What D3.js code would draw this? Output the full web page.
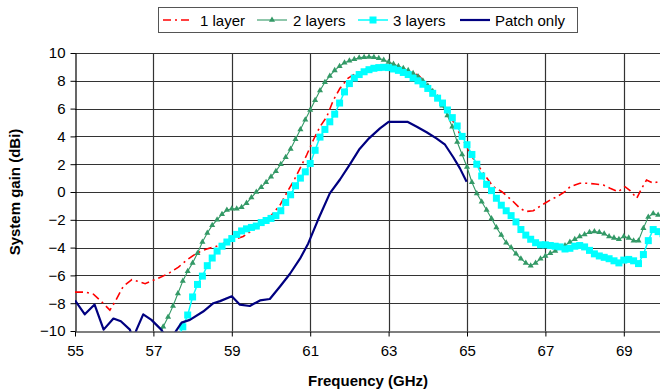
<!DOCTYPE html>
<html><head><meta charset="utf-8">
<script src="https://cdn.jsdelivr.net/npm/d3@7"></script>
<style>
html,body{margin:0;padding:0;background:#fff;}
svg{display:block;font-family:"Liberation Sans",Arial,sans-serif;}
</style></head>
<body><svg id="chart" width="660" height="392"></svg>
<script>
// ---- data ----
const xTicks = [55,57,59,61,63,65,67,69];
const yTicks = [-10,-8,-6,-4,-2,0,2,4,6,8,10];
const seriesNames = ["1 layer","2 layers","3 layers","Patch only"];

const oneLayerF = [55.0,55.26,55.47,55.68,55.89,56.02,56.23,56.45,56.57,56.79,57.04,57.21,57.42,57.64,57.85,58.1,58.36,58.61,58.87,59.04,59.29,59.55,59.8,59.97,60.23,60.44,60.57,60.74,60.91,61.08,61.25,61.42,61.59,61.76,61.97,62.2,62.5,62.8,63.1,63.4,63.76,63.97,64.31,64.65,64.9,65.16,65.42,65.67,65.89,66.14,66.35,66.5,66.69,66.91,67.12,67.29,67.5,67.63,67.88,68.05,68.27,68.48,68.65,68.86,69.03,69.16,69.33,69.46,69.58,69.75,69.88,70.0];
const oneLayerG = [-7.2,-7.2,-7.35,-7.9,-8.5,-7.9,-6.8,-6.3,-6.4,-6.6,-6.3,-6.1,-5.8,-5.4,-4.9,-4.4,-4.1,-3.9,-3.6,-3.45,-3.2,-2.7,-2.25,-1.8,-0.94,0.14,0.74,1.7,2.66,3.74,4.7,5.4,6.6,7.46,8.2,8.6,8.9,9.0,8.95,8.75,8.4,7.8,6.5,5.06,3.74,2.4,1.35,0.38,0.02,-0.58,-1.17,-1.4,-1.35,-0.94,-0.58,-0.34,0.02,0.38,0.63,0.63,0.58,0.5,0.27,0.02,0.38,0.1,-0.45,0.27,0.86,0.63,0.74,0.65];

const twoLayerF = [57.125,57.25,57.375,57.5,57.625,57.75,57.875,58.0,58.125,58.25,58.375,58.5,58.625,58.75,58.875,59.0,59.125,59.25,59.375,59.5,59.625,59.75,59.875,60.0,60.125,60.25,60.375,60.5,60.625,60.75,60.875,61.0,61.125,61.25,61.375,61.5,61.625,61.75,61.875,62.0,62.125,62.25,62.375,62.5,62.625,62.75,62.875,63.0,63.125,63.25,63.375,63.5,63.625,63.75,63.875,64.0,64.125,64.25,64.375,64.5,64.625,64.75,64.875,65.0,65.125,65.25,65.375,65.5,65.625,65.75,65.875,66.0,66.125,66.25,66.375,66.5,66.625,66.75,66.875,67.0,67.125,67.25,67.375,67.5,67.625,67.75,67.875,68.0,68.125,68.25,68.375,68.5,68.625,68.75,68.875,69.0,69.125,69.25,69.375,69.5,69.625,69.75,69.875,70.0];
const twoLayerG = [-10.5,-9.7,-9.0,-8.2,-7.3,-6.4,-5.7,-5.1,-4.4,-3.6,-2.95,-2.4,-2.0,-1.6,-1.3,-1.2,-1.2,-1.1,-0.8,-0.4,0.0,0.35,0.7,1.1,1.5,2.0,2.5,3.1,3.8,4.5,5.2,5.9,6.6,7.3,7.9,8.35,8.75,9.05,9.3,9.45,9.55,9.65,9.7,9.72,9.7,9.62,9.5,9.35,9.2,9.05,8.9,8.75,8.55,8.3,8.0,7.65,7.25,6.8,6.2,5.5,4.7,3.6,2.7,1.8,0.7,-0.1,-0.7,-1.3,-1.9,-2.55,-3.1,-3.65,-4.0,-4.45,-4.8,-5.1,-5.3,-5.1,-4.8,-4.6,-4.4,-4.25,-4.05,-3.85,-3.6,-3.4,-3.2,-3.05,-2.9,-2.85,-2.9,-3.0,-3.2,-3.3,-3.4,-3.2,-3.3,-3.5,-3.5,-2.6,-1.8,-1.55,-1.65,-1.8];

const threeLayerF = [57.625,57.75,57.875,58.0,58.125,58.25,58.375,58.5,58.625,58.75,58.875,59.0,59.125,59.25,59.375,59.5,59.625,59.75,59.875,60.0,60.125,60.25,60.375,60.5,60.625,60.75,60.875,61.0,61.125,61.25,61.375,61.5,61.625,61.75,61.875,62.0,62.125,62.25,62.375,62.5,62.625,62.75,62.875,63.0,63.125,63.25,63.375,63.5,63.625,63.75,63.875,64.0,64.125,64.25,64.375,64.5,64.625,64.75,64.875,65.0,65.125,65.25,65.375,65.5,65.625,65.75,65.875,66.0,66.125,66.25,66.375,66.5,66.625,66.75,66.875,67.0,67.125,67.25,67.375,67.5,67.625,67.75,67.875,68.0,68.125,68.25,68.375,68.5,68.625,68.75,68.875,69.0,69.125,69.25,69.375,69.5,69.625,69.75,69.875,70.0];
const threeLayerG = [-10.6,-9.7,-8.85,-7.55,-6.65,-6.05,-5.3,-4.75,-4.25,-3.9,-3.6,-3.35,-3.05,-2.8,-2.65,-2.55,-2.45,-2.2,-2.05,-1.9,-1.7,-1.35,-0.75,-0.2,0.45,1.0,1.45,2.05,3.0,3.95,4.5,5.05,5.6,6.4,7.2,7.8,8.2,8.45,8.65,8.8,8.9,8.95,8.97,8.95,8.85,8.75,8.6,8.45,8.2,8.0,7.75,7.45,7.1,6.75,6.4,5.9,5.35,4.75,4.0,3.4,2.7,2.0,1.15,0.55,0.1,-0.45,-0.95,-1.35,-1.7,-2.15,-2.7,-3.1,-3.4,-3.65,-3.8,-3.8,-3.85,-3.9,-3.95,-4.1,-4.05,-3.9,-3.85,-3.95,-4.2,-4.45,-4.6,-4.7,-4.8,-4.95,-5.1,-4.9,-4.85,-4.95,-5.15,-4.5,-3.5,-2.7,-2.85,-3.0];

const patchF = [55.0,55.25,55.5,55.73,55.98,56.17,56.4,56.48,56.57,56.74,56.95,57.2,57.4,57.6,57.72,57.93,58.27,58.53,58.7,59.0,59.2,59.46,59.72,59.97,60.23,60.48,60.74,60.95,61.2,61.5,61.76,62.0,62.26,62.5,62.78,63.0,63.25,63.48,63.72,63.97,64.22,64.44,64.65,64.82,64.99];
const patchG = [-7.8,-8.8,-8.1,-9.9,-9.1,-9.3,-9.9,-10.6,-9.9,-8.8,-9.2,-9.9,-10.8,-9.9,-9.4,-9.2,-8.6,-8.0,-7.85,-7.5,-8.1,-8.2,-7.8,-7.7,-6.8,-5.9,-4.8,-3.7,-2.0,-0.1,0.9,1.94,3.1,3.86,4.58,5.05,5.05,5.05,4.7,4.3,3.86,3.4,2.5,1.7,0.74];

// ---- layout ----
const svg = d3.select("#chart");
const W = 660, H = 392;
const x = d3.scaleLinear().domain([55,70]).range([75,663]);
const y = d3.scaleLinear().domain([-10,10]).range([331,53]);

svg.append("rect").attr("width",W).attr("height",H).attr("fill","#fff");

svg.append("defs").append("clipPath").attr("id","plotclip")
  .append("rect").attr("x",75).attr("y",52).attr("width",590).attr("height",279.5);

// gridlines
const grid = svg.append("g");
grid.selectAll("line.h").data(yTicks.filter(d=>d>-10)).join("line")
  .attr("x1",75).attr("x2",663).attr("y1",d=>Math.round(y(d))+0.5).attr("y2",d=>Math.round(y(d))+0.5)
  .attr("stroke","#333").attr("stroke-width",1.2);
grid.selectAll("line.v").data(xTicks.filter(d=>d>55)).join("line")
  .attr("y1",53).attr("y2",331).attr("x1",d=>Math.round(x(d))+0.5).attr("x2",d=>Math.round(x(d))+0.5)
  .attr("stroke","#333").attr("stroke-width",1.2);

// axes
const xAxis = d3.axisBottom(x).tickValues(xTicks).tickSize(5).tickSizeOuter(0).tickPadding(9);
const gx = svg.append("g").attr("transform","translate(0,"+(Math.round(y(-10))+0.5)+")").call(xAxis);
gx.select(".domain").attr("stroke","#000").attr("stroke-width",1.2);
gx.selectAll(".tick line").attr("stroke","#000");
gx.selectAll("text").attr("font-size",15).attr("fill","#000").attr("font-family","Liberation Sans, Arial, sans-serif");

const yAxis = d3.axisLeft(y).tickValues(yTicks).tickSize(5).tickSizeOuter(0).tickPadding(5);
const gy = svg.append("g").attr("transform","translate("+(Math.round(x(55))+0.5)+",0)").call(yAxis);
gy.select(".domain").attr("stroke","#000").attr("stroke-width",1.2);
gy.selectAll(".tick line").attr("stroke","#000");
gy.selectAll("text").attr("font-size",15).attr("fill","#000").attr("font-family","Liberation Sans, Arial, sans-serif");

// axis titles
svg.append("text").attr("x",368).attr("y",386).attr("text-anchor","middle")
  .attr("font-size",15).attr("font-weight","bold").text("Frequency (GHz)");
svg.append("text").attr("transform","translate(20,192) rotate(-90)").attr("text-anchor","middle")
  .attr("font-size",15).attr("font-weight","bold").text("System gain (dBi)");

// series
const plot = svg.append("g").attr("clip-path","url(#plotclip)");
const line = d3.line().x(d=>x(d[0])).y(d=>y(d[1]));
const zip = (a,b)=>a.map((v,i)=>[v,b[i]]);

const red = zip(oneLayerF, oneLayerG);
const green = zip(twoLayerF, twoLayerG);
const cyan = zip(threeLayerF, threeLayerG);
const navy = zip(patchF, patchG);

plot.append("path").datum(red).attr("d",line).attr("fill","none")
  .attr("stroke","#ff0000").attr("stroke-width",1.6).attr("stroke-dasharray","8,4,2,4");

plot.append("path").datum(green).attr("d",line).attr("fill","none")
  .attr("stroke","#339966").attr("stroke-width",1.1);
const tri = d3.symbol().type(d3.symbolTriangle).size(16);
plot.selectAll("path.tri").data(green).join("path").attr("class","tri")
  .attr("d",tri).attr("transform",d=>"translate("+x(d[0])+","+y(d[1])+")")
  .attr("fill","#339966");

plot.append("path").datum(cyan).attr("d",line).attr("fill","none")
  .attr("stroke","#00ffff").attr("stroke-width",1.5);
plot.selectAll("rect.sq").data(cyan).join("rect").attr("class","sq")
  .attr("x",d=>x(d[0])-3.5).attr("y",d=>y(d[1])-3.5).attr("width",7).attr("height",7)
  .attr("fill","#00ffff");

plot.append("path").datum(navy).attr("d",line).attr("fill","none")
  .attr("stroke","#000080").attr("stroke-width",2.2).attr("stroke-linejoin","round");

// legend
const lg = svg.append("g");
lg.append("rect").attr("x",158.5).attr("y",7.5).attr("width",419).attr("height",25)
  .attr("fill","#fff").attr("stroke","#555").attr("stroke-width",1);
const legItems = [
  {name:seriesNames[0], x0:163, tx:200, color:"#ff0000", dash:"8,4,2,4", w:1.6, mark:null},
  {name:seriesNames[1], x0:257, tx:293, color:"#339966", dash:null, w:1.1, mark:"tri"},
  {name:seriesNames[2], x0:358, tx:393, color:"#00ffff", dash:null, w:1.5, mark:"sq"},
  {name:seriesNames[3], x0:460, tx:495, color:"#000080", dash:null, w:2.2, mark:null}
];
legItems.forEach(it=>{
  lg.append("line").attr("x1",it.x0).attr("x2",it.x0+30).attr("y1",20).attr("y2",20)
    .attr("stroke",it.color).attr("stroke-width",it.w).attr("stroke-dasharray",it.dash);
  if(it.mark==="tri") lg.append("path").attr("d",tri).attr("transform","translate("+(it.x0+15)+",20)").attr("fill",it.color);
  if(it.mark==="sq") lg.append("rect").attr("x",it.x0+11.5).attr("y",16.5).attr("width",7).attr("height",7).attr("fill",it.color);
  lg.append("text").attr("x",it.tx).attr("y",25.5).attr("font-size",15).attr("fill","#000").text(it.name);
});
</script></body></html>
